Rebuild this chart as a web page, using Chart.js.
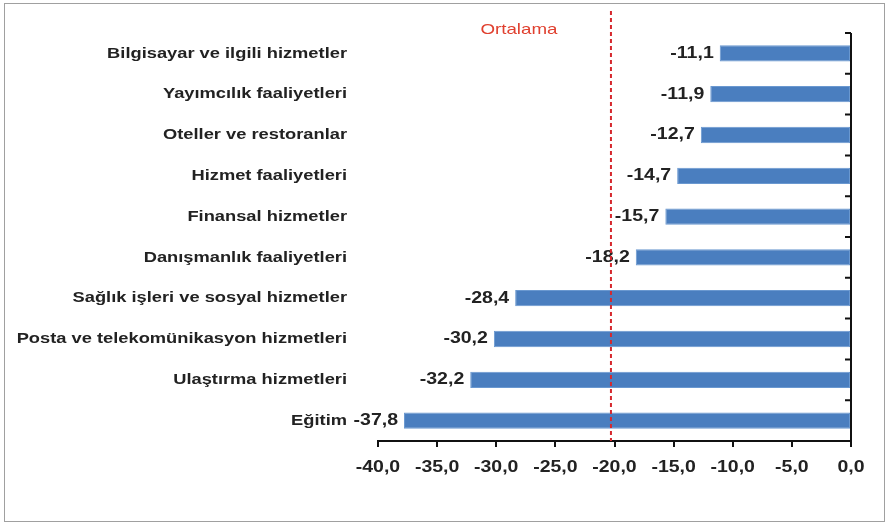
<!DOCTYPE html>
<html>
<head>
<meta charset="utf-8">
<script src="https://cdn.jsdelivr.net/npm/chart.js@4/dist/chart.umd.min.js"></script>
<style>
  body { margin: 0; background: #fff; }
  #cerco { position: absolute; left: 4px; top: 3px; width: 879px; height: 517px; border: 1px solid #a0a0a0; }
  #grafico { position: absolute; left: 0; top: 0; }
</style>
</head>
<body>
<div id="cerco"></div>
<canvas id="grafico" width="887" height="525"></canvas>
<script>
const sektorler = [
  "Bilgisayar ve ilgili hizmetler",
  "Yayımcılık faaliyetleri",
  "Oteller ve restoranlar",
  "Hizmet faaliyetleri",
  "Finansal hizmetler",
  "Danışmanlık faaliyetleri",
  "Sağlık işleri ve sosyal hizmetler",
  "Posta ve telekomünikasyon hizmetleri",
  "Ulaştırma hizmetleri",
  "Eğitim"
];
const degisim = [-11.1, -11.9, -12.7, -14.7, -15.7, -18.2, -28.4, -30.2, -32.2, -37.8];
const ortalama = -20.3;
const eksenMin = -40;
const eksenMax = 0;
const eksenAdim = 5;

const yazi = "'Liberation Sans', Arial, sans-serif";

function virgul(v, d) {
  return v.toFixed(d).replace(".", ",");
}

// yatayda biraz genis yazi (orijinal gorsel genis)
function yaz(ctx, metin, x, y, boyut, hiza, kalin, renk, genis) {
  ctx.save();
  ctx.translate(x, y);
  ctx.scale(genis, 1);
  ctx.font = (kalin ? "bold " : "") + boyut + "px " + yazi;
  ctx.fillStyle = renk;
  ctx.textAlign = hiza;
  ctx.textBaseline = "middle";
  ctx.fillText(metin, 0, 0);
  ctx.restore();
}

const ekstra = {
  id: "ekstra",
  afterDatasetsDraw(chart) {
    const ctx = chart.ctx;
    const x = chart.scales.x;
    const y = chart.scales.y;
    const area = chart.chartArea;
    const meta = chart.getDatasetMeta(0);

    // kategori etiketleri
    sektorler.forEach((s, i) => {
      yaz(ctx, s, 347, y.getPixelForTick(i), 15.5, "right", true, "#222", 1.18);
    });

    // deger etiketleri
    meta.data.forEach((bar, i) => {
      yaz(ctx, virgul(degisim[i], 1), bar.x - 6, bar.y, 16, "right", true, "#222", 1.22);
    });

    // x ekseni etiketleri
    x.ticks.forEach(t => {
      yaz(ctx, virgul(t.value, 1), x.getPixelForValue(t.value), area.bottom + 26, 16.5, "center", true, "#222", 1.18);
    });

    // sag dikey eksen
    const x0 = x.getPixelForValue(0);
    ctx.save();
    ctx.strokeStyle = "#111";
    ctx.lineWidth = 2;
    ctx.beginPath();
    ctx.moveTo(x0, area.top);
    ctx.lineTo(x0, area.bottom);
    const n = sektorler.length;
    for (let i = 0; i < n; i++) {
      const yy = area.top + i * (area.bottom - area.top) / n;
      ctx.moveTo(x0, yy);
      ctx.lineTo(x0 - 6, yy);
    }
    ctx.stroke();

    // ortalama
    const xa = x.getPixelForValue(ortalama);
    ctx.strokeStyle = "#d6282e";
    ctx.lineWidth = 2;
    ctx.setLineDash([4, 3]);
    ctx.beginPath();
    ctx.moveTo(xa, 11);
    ctx.lineTo(xa, area.bottom);
    ctx.stroke();
    ctx.restore();

    yaz(ctx, "Ortalama", xa - 92, 30, 15, "center", false, "#e0402f", 1.25);
  }
};

new Chart(document.getElementById("grafico"), {
  type: "bar",
  data: {
    labels: sektorler,
    datasets: [{
      data: degisim,
      backgroundColor: "#4a7ebf",
      borderColor: "#6a98d0",
      borderWidth: 1,
      borderSkipped: false,
      categoryPercentage: 1,
      barPercentage: 0.4
    }]
  },
  options: {
    indexAxis: "y",
    responsive: false,
    animation: false,
    layout: { padding: { top: 33, right: 36, bottom: 0, left: 0 } },
    plugins: {
      legend: { display: false },
      tooltip: { enabled: false }
    },
    scales: {
      x: {
        min: eksenMin,
        max: eksenMax,
        ticks: {
          stepSize: eksenAdim,
          color: "rgba(0,0,0,0)",
          font: { family: yazi, size: 14, weight: "bold" },
          callback: v => virgul(v, 1)
        },
        grid: { drawOnChartArea: false, color: "#111", lineWidth: 2, tickLength: 6 },
        border: { color: "#111", width: 2 },
        afterFit: s => { s.height = 84; }
      },
      y: {
        position: "left",
        grid: { display: false, drawTicks: false },
        border: { display: false },
        ticks: { color: "rgba(0,0,0,0)" },
        afterFit: s => { s.width = 378; }
      }
    }
  },
  plugins: [ekstra]
});
</script>
</body>
</html>
